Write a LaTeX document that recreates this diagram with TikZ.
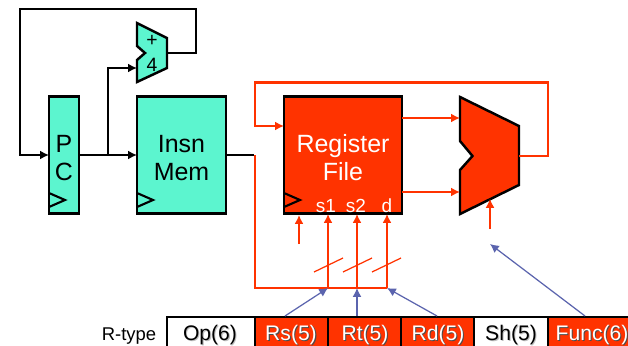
\documentclass[tikz,border=0pt]{standalone}
\usepackage{fontspec}
\setmainfont{Liberation Sans}
\usetikzlibrary{arrows.meta,positioning,calc}
\definecolor{tealfill}{HTML}{5CF5CF}
\definecolor{regred}{HTML}{FF3300}
\definecolor{ctrlblue}{HTML}{5B64AE}
\newcommand{\bigtxt}{\fontsize{14.2}{16}\selectfont}
\newcommand{\shadowtxt}[2]{\leavevmode\rlap{\kern0.6pt\raisebox{-0.6pt}{\textcolor{#1}{#2}}}#2}
\begin{document}
\begin{tikzpicture}[x=0.02cm,y=-0.02cm,
  block/.style={draw=black, line width=1.5pt, minimum height=2.34cm, inner sep=0pt, outer sep=0pt, align=center, font=\bigtxt},
  blk/.style={draw=black, line width=1.4pt, line join=miter},
  clk/.style={draw=black, line width=1.2pt},
  wire/.style={draw=black, line width=1.4pt, -{Latex[length=5pt,width=5pt]}},
  wireplain/.style={draw=black, line width=1.4pt},
  rwire/.style={draw=regred, line width=1.4pt, -{Latex[length=5pt,width=5pt]}},
  rplain/.style={draw=regred, line width=1.4pt},
  rthin/.style={draw=regred, line width=0.7pt},
  ctrl/.style={draw=ctrlblue, line width=0.7pt, -{Latex[length=5pt,width=5pt]}},
  cell/.style={draw=black, line width=1.1pt, minimum height=0.76cm, inner sep=0pt, outer sep=0pt, anchor=north west},
  celltxt/.style={inner sep=0pt, font=\fontsize{12}{14}\selectfont, anchor=base},
  porttxt/.style={text=white, font=\fontsize{10.8}{12}\selectfont, anchor=base, inner sep=0pt}]
\clip (0,0) rectangle (628,345);
\fill[white] (0,0) rectangle (628,345);
% state and memory
\node[block, fill=tealfill, minimum width=0.6cm] (pc) at (64,155) {\\[-3pt]P\\C};
\node[block, fill=tealfill, minimum width=1.78cm] (mem) at (181.5,155) {\\[-3pt]Insn\\Mem};
\node[block, fill=regred, text=white, minimum width=2.36cm] (regs) at (343,155) {\\[-3pt]Register\\File};
% clock marks
\draw[clk] (49,193) -- (65,200) -- (49,207);
\draw[clk] (137,193) -- (153,200) -- (137,207);
\draw[clk] (284,193) -- (300,200) -- (284,207);
\node[porttxt] (s1) at (326,212.5) {s1};
\node[porttxt] (s2) at (356,212.5) {s2};
\node[porttxt] (dd) at (387,212.5) {d};
% adder
\coordinate (addin) at (137,68);
\coordinate (addout) at (167,53);
\filldraw[blk, fill=tealfill] (137,23) -- (167,38) -- (addout) -- (167,68) -- (137,82) -- (137,60) -- (145,53) -- (137,46) -- cycle;
\node[font=\fontsize{11}{12}\selectfont, inner sep=0pt] (plus) at (152,41) {+};
\node[font=\fontsize{11}{12}\selectfont, inner sep=0pt] (four) at (152,65) {4};
% alu
\coordinate (aluA) at (460,118);
\coordinate (aluB) at (460,192);
\coordinate (aluC) at (490,199);
\coordinate (aluout) at (519,156);
\filldraw[blk, fill=regred] (460,97) -- (519,126) -- (aluout) -- (519,185) -- (460,214) -- (460,170) -- (472.5,156) -- (460,141) -- cycle;
% black wires
\coordinate (looptl) at (20,9);
\coordinate (looptr) at (196,9);
\coordinate (loopbl) at (20,155);
\coordinate (looprb) at (196,53);
\coordinate (pcbr) at (108,155);
\coordinate (pcup) at (108,68);
\coordinate (memto) at (254,155);
\draw[wire] (addout) -- (looprb) -- (looptr) -- (looptl) -- (loopbl) -- (pc.west);
\draw[wire] (pc.east) -- (mem.west);
\draw[wire] (pcbr) -- (pcup) -- (addin);
\draw[wireplain] (mem.east) -- (memto);
% red wires
\coordinate (regA) at (402,118);
\coordinate (regB) at (402,192);
\coordinate (regin) at (284,126);
\coordinate (fbr) at (548,156);
\coordinate (fbtr) at (548,82.5);
\coordinate (fbtl) at (255,82.5);
\coordinate (fbbl) at (255,126);
\coordinate (busbl) at (255,288);
\coordinate (s1bus) at (328,288);
\coordinate (s2bus) at (357,288);
\coordinate (dbus) at (387,288);
\coordinate (s1top) at (328,214);
\coordinate (s2top) at (357,214);
\coordinate (dtop) at (387,214);
\coordinate (clkb) at (299,244);
\coordinate (clkt) at (299,215);
\coordinate (ctlb) at (490,229);
\draw[rwire] (regA) -- (aluA);
\draw[rwire] (regB) -- (aluB);
\draw[rwire] (aluout) -- (fbr) -- (fbtr) -- (fbtl) -- (fbbl) -- (regin);
\draw[rplain] (255,155) -- (busbl) -- (dbus);
\draw[rwire, line width=0.9pt] (s1bus) -- (s1top);
\draw[rwire, line width=0.9pt] (s2bus) -- (s2top);
\draw[rwire, line width=0.9pt] (dbus) -- (dtop);
\draw[rwire, line width=0.9pt] (clkb) -- (clkt);
\draw[rwire, line width=0.7pt] (ctlb) -- (aluC);
% bus width marks
\draw[rthin] (314,272) -- (343,258);
\draw[rthin] (343,272) -- (372,258);
\draw[rthin] (372,272) -- (401,258);
% instruction format
\node[anchor=base, inner sep=0pt, font=\fontsize{10.5}{14}\selectfont] (rtype) at (129,340) {R-type};
\node[cell, fill=white, minimum width=1.76cm] (op) at (167,317) {};
\node[cell, fill=regred, minimum width=1.46cm] (rs) at (255,317) {};
\node[cell, fill=regred, minimum width=1.46cm] (rt) at (328,317) {};
\node[cell, fill=regred, minimum width=1.46cm] (rd) at (401,317) {};
\node[cell, fill=white, minimum width=1.46cm] (sh) at (474.5,317) {};
\node[cell, fill=regred, minimum width=1.8cm] (func) at (548,317) {};
\node[celltxt] (optxt) at (210,340) {\shadowtxt{black!25}{Op(6)}};
\node[celltxt, text=white] (rstxt) at (291,340) {\shadowtxt{black!70}{Rs(5)}};
\node[celltxt, text=white] (rttxt) at (365,340) {\shadowtxt{black!70}{Rt(5)}};
\node[celltxt, text=white] (rdtxt) at (438,340) {\shadowtxt{black!70}{Rd(5)}};
\node[celltxt] (shtxt) at (511,340) {\shadowtxt{black!25}{Sh(5)}};
\node[celltxt, text=white] (functxt) at (592,340) {\shadowtxt{black!70}{Func(6)}};
% control arrows
\coordinate (rsup) at (285,316);
\coordinate (rtup) at (357,316);
\coordinate (rdup) at (437,316);
\coordinate (fnup) at (585,316);
\coordinate (alutip) at (490,244);
\draw[ctrl] (rsup) -- (s1bus);
\draw[ctrl] (rtup) -- (s2bus);
\draw[ctrl] (rdup) -- (dbus);
\draw[ctrl] (fnup) -- (alutip);
\end{tikzpicture}
\end{document}
